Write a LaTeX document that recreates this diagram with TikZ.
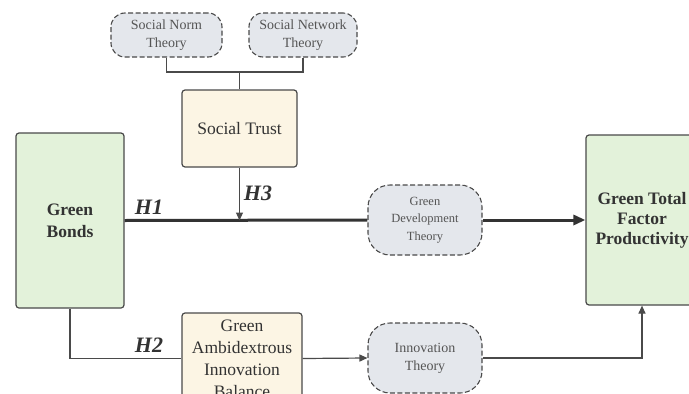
\documentclass[tikz,border=0pt]{standalone}
\usepackage{fontspec}
\setmainfont{Liberation Serif}
\usetikzlibrary{arrows.meta}
\definecolor{edgec}{HTML}{4A4A4A}
\definecolor{greenfill}{HTML}{E3F2DA}
\definecolor{creamfill}{HTML}{FCF5E4}
\definecolor{theoryfill}{HTML}{E4E7EC}
\definecolor{textc}{HTML}{333333}
\definecolor{theorytext}{HTML}{555555}
\tikzset{
  greenbox/.style={draw=edgec, line width=1.2pt, fill=greenfill, rounded corners=3pt,
    align=center, font=\fontsize{17.5}{21}\selectfont\bfseries, text=textc, inner sep=0pt},
  creambox/.style={draw=edgec, line width=1.2pt, fill=creamfill, rounded corners=3pt,
    align=center, font=\fontsize{17.5}{22}\selectfont, text=textc, inner sep=0pt},
  theory/.style={draw=edgec, line width=1.1pt, dash pattern=on 5pt off 2.5pt, fill=theoryfill,
    rounded corners=14pt, align=center, font=\fontsize{14}{18}\selectfont, text=theorytext, inner sep=0pt},
  bigtheory/.style={theory, rounded corners=22pt, minimum width=114pt, minimum height=70pt},
  conn/.style={draw=edgec, line width=1.2pt},
  mainconn/.style={draw=textc, line width=3pt},
  hlabel/.style={font=\fontsize{22}{24}\selectfont\bfseries\itshape, text=textc, inner sep=0pt},
  tip/.style={-{Triangle[length=8pt,width=7pt]}},
  bigtip/.style={-{Triangle[length=12pt,width=10pt]}},
}
\begin{document}
\begin{tikzpicture}[x=1pt,y=-1pt]
\useasboundingbox (0,0) rectangle (689,394);
\clip (0,0) rectangle (689,394);
\fill[white] (0,0) rectangle (689,394);
% nodes
\node[theory, minimum width=111pt, minimum height=44pt] (norm) at (166.5,35) {Social Norm\\Theory};
\node[theory, minimum width=108pt, minimum height=44pt] (network) at (303,35) {Social Network\\Theory};
\node[creambox, minimum width=115pt, minimum height=77pt] (trust) at (239.5,128.5) {Social Trust};
\node[greenbox, minimum width=108pt, minimum height=175pt, font=\fontsize{17.5}{22}\selectfont\bfseries] (bonds) at (70,220.5) {Green\\Bonds};
\node[greenbox, minimum width=112pt, minimum height=170pt, font=\fontsize{17.5}{20}\selectfont\bfseries] (gtfp) at (642,220) {Green Total\\Factor\\Productivity};
\node[bigtheory, font=\fontsize{12.5}{17.5}\selectfont] (gdt) at (425,220) {Green\\Development\\Theory};
\node[bigtheory] (it) at (425,358) {Innovation\\Theory};
\node[creambox, minimum width=120pt, minimum height=91pt] (gaib) at (242,358.5) {Green\\Ambidextrous\\Innovation\\Balance};
% coordinates
\coordinate (tj) at (trust.north |- 0,72);
\coordinate (tm) at (trust.south |- bonds.east);
\coordinate (bj) at (bonds.south |- gaib.west);
\coordinate (gj) at (gtfp.south |- it.east);
% connectors
\draw[conn] (norm.south) |- (tj) -| (network.south);
\draw[conn] (tj) -- (trust.north);
\draw[mainconn] (bonds.east) -- (gdt.west);
\draw[mainconn, bigtip] (gdt.east) -- (gtfp.west);
\draw[conn, tip] (trust.south) -- (tm);
\draw[conn] (bonds.south) -- (bj) -- (gaib.west);
\draw[conn, tip] (gaib.east) -- (it.west);
\draw[conn, tip] (it.east) -- (gj) -- (gtfp.south);
% labels
\node[hlabel] (h1) at (149,207) {H1};
\node[hlabel] (h3) at (258,193) {H3};
\node[hlabel] (h2) at (149,345) {H2};
\end{tikzpicture}
\end{document}
